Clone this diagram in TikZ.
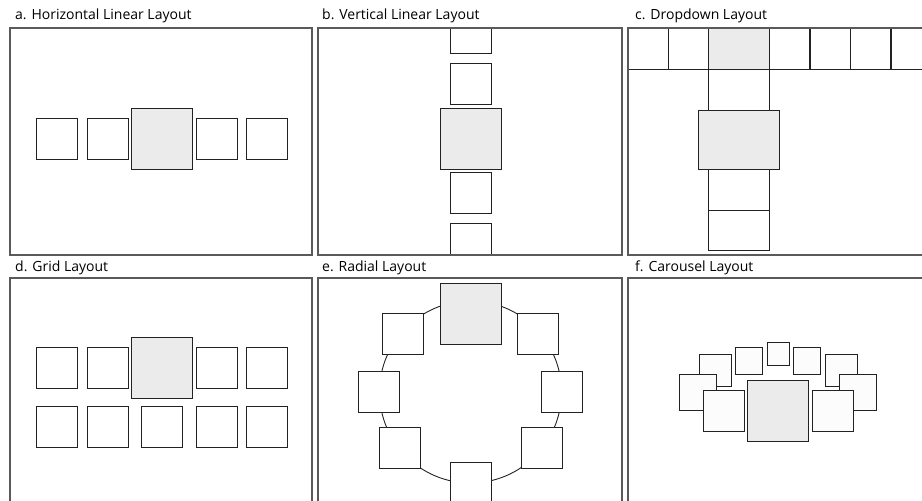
\documentclass[tikz,border=0pt]{standalone}
\usepackage{fontspec}
\setmainfont{Open Sans}
\usetikzlibrary{positioning}
\definecolor{layFrame}{HTML}{5A5A5A}
\definecolor{layEdge}{HTML}{222222}
\definecolor{layFocus}{HTML}{EBEBEB}
\definecolor{layCard}{HTML}{FCFCFC}
\tikzset{
  layframe/.style={draw=layFrame,line width=1.2pt},
  laybox/.style={draw=layEdge,line width=0.9pt,fill=white,inner sep=0pt,outer sep=0pt,
                 minimum width=41pt,minimum height=41pt},
  layfocus/.style={laybox,fill=layFocus,minimum width=61pt,minimum height=61pt},
  laycard/.style={laybox,fill=layCard},
  layring/.style={draw=layEdge,line width=0.9pt},
  laytitle/.style={anchor=base west,inner sep=0pt,font=\fontsize{14}{16}\selectfont},
}
\begin{document}
\begin{tikzpicture}[x=1pt,y=-1pt]
  \useasboundingbox (0,0) rectangle (922,501);
  \clip (0,0) rectangle (922,501);

  % Titles.
  \node[laytitle] (ta) at (15,19.5)   {a. Horizontal Linear Layout};
  \node[laytitle] (tb) at (322,19.5)  {b. Vertical Linear Layout};
  \node[laytitle] (tc) at (635,19.5)  {c. Dropdown Layout};
  \node[laytitle] (td) at (15,271.5)  {d. Grid Layout};
  \node[laytitle] (te) at (322,271.5) {e. Radial Layout};
  \node[laytitle] (tf) at (635,271.5) {f. Carousel Layout};

  % a. Horizontal row.
  \begin{scope}
    \clip (10,28) rectangle (312,255);
    \foreach \x [count=\i] in {56.5,107.5,216.5,267}
      \node[laybox] (a\i) at (\x,138.5) {};
    \node[layfocus] (a0) at (161.5,138.5) {};
  \end{scope}
  \draw[layframe] (10,28) rectangle (312,255);

  % b. Vertical column, clipped by the frame.
  \begin{scope}
    \clip (318,28) rectangle (622,255);
    \foreach \y [count=\i] in {32.5,84,192.5,243.5}
      \node[laybox] (b\i) at (470.5,\y) {};
    \node[layfocus] (b0) at (470.5,138.5) {};
  \end{scope}
  \draw[layframe] (318,28) rectangle (622,255);

  % c. Menu bar with a dropdown under the chosen item.
  \begin{scope}
    \clip (628,28) rectangle (931,255);
    \foreach \x [count=\i] in {648,688,789.5,830,870.5,911}
      \node[laybox,minimum width=40pt] (c\i) at (\x,48.5) {};
    \node[laybox,fill=layFocus,minimum width=61pt] (c0) at (738.5,48.5) {};
    \node[laybox,minimum width=61pt] (cd1) at (738.5,89.5) {};
    \node[laybox,minimum width=61pt] (cd2) at (738.5,189.5) {};
    \node[laybox,minimum width=61pt,minimum height=40pt] (cd3) at (738.5,230) {};
    \node[layfocus,minimum width=81pt,minimum height=59pt] (cd0) at (738.5,139.5) {};
  \end{scope}
  \draw[layframe] (628,28) rectangle (931,255);

  % d. Two rows.
  \begin{scope}
    \clip (10,278) rectangle (312,510);
    \foreach \x [count=\i] in {56.5,107.5,216.5,267}
      \node[laybox] (d\i) at (\x,367.5) {};
    \foreach \x [count=\i] in {56.5,107.5,161.5,216.5,267}
      \node[laybox] (dd\i) at (\x,426.5) {};
    \node[layfocus] (d0) at (161.5,367.5) {};
  \end{scope}
  \draw[layframe] (10,278) rectangle (312,510);

  % e. Ring of items.
  \begin{scope}
    \clip (318,278) rectangle (622,510);
    \draw[layring] (470.5,392) circle[radius=91];
    \foreach \x/\y [count=\i] in {537.5/333.5,561.5/392,541.5/447.5,470.5/482.5,
                                  399.5/447.5,379/392,403/333.5}
      \node[laybox] (e\i) at (\x,\y) {};
    \node[layfocus] (e0) at (470.5,313.5) {};
  \end{scope}
  \draw[layframe] (318,278) rectangle (622,510);

  % f. Carousel, far cards first.
  \begin{scope}
    \clip (628,278) rectangle (931,510);
    \node[laycard,minimum width=22pt,minimum height=23pt] (f0) at (778,353.5) {};
    \foreach \s in {-1,1} {
      \node[laycard,minimum width=27pt,minimum height=27pt] (f1\s) at (778+29*\s,360.5) {};
      \node[laycard,minimum width=32pt,minimum height=32pt] (f2\s) at (778+63*\s,370) {};
      \node[laycard,minimum width=37pt,minimum height=36pt] (f3\s) at (778+80*\s,392) {};
      \node[laycard] (f4\s) at (778+54.5*\s,410.5) {};
    }
    \node[layfocus] (fc) at (778,410.5) {};
  \end{scope}
  \draw[layframe] (628,278) rectangle (931,510);
\end{tikzpicture}
\end{document}
